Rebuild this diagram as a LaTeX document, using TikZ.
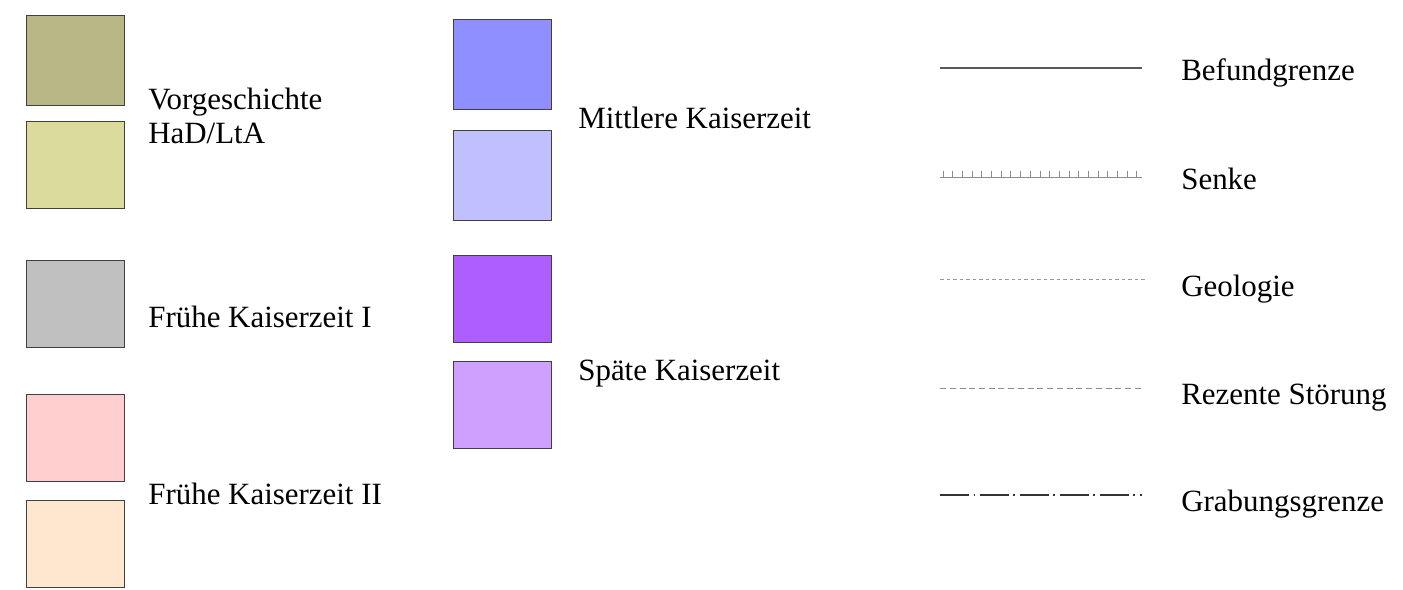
\documentclass[tikz,border=0pt]{standalone}
\usepackage{fontspec}
\setmainfont{Liberation Serif}
\usepackage{xcolor}
\usepackage{tikz}
\usetikzlibrary{positioning}

\definecolor{vgdark}{RGB}{184,184,134}
\definecolor{vglight}{RGB}{219,219,156}
\definecolor{fkgray}{RGB}{192,192,192}
\definecolor{fkpink}{RGB}{255,206,206}
\definecolor{fkpeach}{RGB}{255,231,207}
\definecolor{mkdark}{RGB}{143,143,255}
\definecolor{mklight}{RGB}{192,192,255}
\definecolor{skdark}{RGB}{174,94,255}
\definecolor{sklight}{RGB}{208,160,255}

\begin{document}
\begin{tikzpicture}[
    x=0.02cm, y=-0.02cm,
    swatch/.style={draw=black!75, line width=0.6pt, anchor=north west, inner sep=0pt, minimum width=1.96cm, minimum height=1.74cm},
    legtext/.style={anchor=base west, inner sep=0pt, align=left, font=\fontsize{17.6}{18.8}\selectfont},
    befund/.style={draw=black!65, line width=0.8pt},
    senke/.style={draw=black!45, line width=0.55pt},
    geo/.style={draw=black!40, line width=0.5pt, dash pattern=on 0.07cm off 0.06cm},
    rezent/.style={draw=black!45, line width=0.5pt, dash pattern=on 0.12cm off 0.075cm},
    grabung/.style={draw=black!80, line width=0.6pt, dash pattern=on 0.58cm off 0.09cm on 0.03cm off 0.1cm}
]
    \useasboundingbox (0,0) rectangle (1403,589);

    % left column
    \node[swatch, fill=vgdark, minimum height=1.8cm] (vg1) at (26,15) {};
    \node[swatch, fill=vglight] (vg2) at (26,121) {};
    \node[swatch, fill=fkgray] (fk1) at (26,260) {};
    \node[swatch, fill=fkpink] (fk2a) at (26,394) {};
    \node[swatch, fill=fkpeach] (fk2b) at (26,500) {};

    \node[legtext] (vgtext) at (148,143) {Vorgeschichte\\HaD/LtA};
    \node[legtext] (fk1text) at (148,327) {Frühe Kaiserzeit I};
    \node[legtext] (fk2text) at (148,504) {Frühe Kaiserzeit II};

    % middle column
    \node[swatch, fill=mkdark, minimum height=1.8cm] (mk1) at (453,19) {};
    \node[swatch, fill=mklight, minimum height=1.8cm] (mk2) at (453,130) {};
    \node[swatch, fill=skdark] (sk1) at (453,255) {};
    \node[swatch, fill=sklight] (sk2) at (453,361) {};

    \node[legtext] (mktext) at (578,128) {Mittlere Kaiserzeit};
    \node[legtext] (sktext) at (578,380) {Späte Kaiserzeit};

    % line types
    \coordinate (bg-l) at (940,68);   \coordinate (bg-r) at (1142,68);
    \coordinate (se-l) at (940,177);  \coordinate (se-r) at (1142,177);
    \coordinate (ge-l) at (940,279);  \coordinate (ge-r) at (1147,279);
    \coordinate (rz-l) at (940,388);  \coordinate (rz-r) at (1142,388);
    \coordinate (gr-l) at (940,495);  \coordinate (gr-r) at (1142,495);

    \draw[befund] (bg-l) -- (bg-r);
    \draw[senke] (se-l) -- (se-r);
    \foreach \i in {0,...,20}
        \draw[senke] ([xshift=0.06cm+\i*0.194cm]se-l) -- ++(0,-6);
    \draw[geo] (ge-l) -- (ge-r);
    \draw[rezent] (rz-l) -- (rz-r);
    \draw[grabung] (gr-l) -- (gr-r);

    \node[legtext] (bgtext) at (1181,80) {Befundgrenze};
    \node[legtext] (setext) at (1181,189) {Senke};
    \node[legtext] (getext) at (1181,296) {Geologie};
    \node[legtext] (rztext) at (1181,404) {Rezente Störung};
    \node[legtext] (grtext) at (1181,511) {Grabungsgrenze};
\end{tikzpicture}
\end{document}
